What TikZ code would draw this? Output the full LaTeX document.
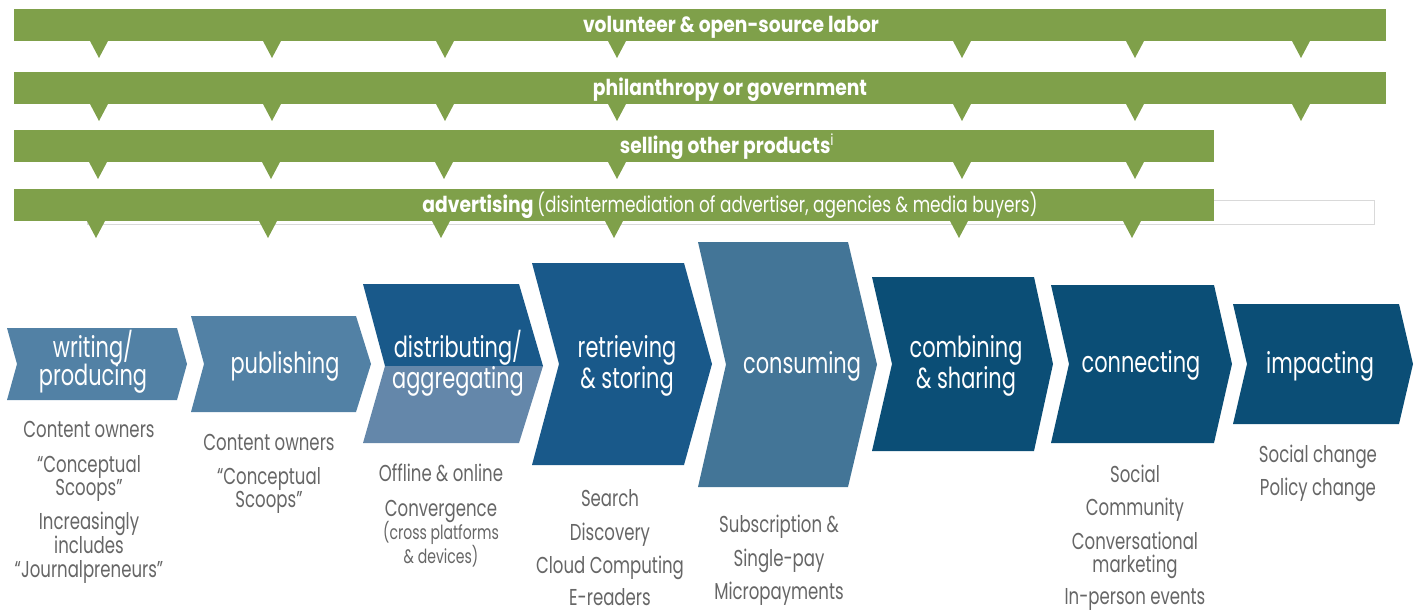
\documentclass[tikz,border=0pt]{standalone}
\usepackage{fontspec}
\setmainfont{Poppins}[FakeStretch=0.72]
\newfontfamily\labfont{Poppins}[FakeStretch=0.72]
\newfontfamily\barfont{Poppins}[FakeStretch=0.85]
\newfontfamily\parfont{Poppins}[FakeStretch=0.77]
\definecolor{grn}{HTML}{7FA04A}
\definecolor{lblue}{HTML}{5281A5}
\definecolor{dblue}{HTML}{19598A}
\definecolor{mblue}{HTML}{6487AA}
\definecolor{cblue}{HTML}{437597}
\definecolor{nblue}{HTML}{0B4E76}
\definecolor{txtgray}{HTML}{666666}
\newcommand\chevron[7]{% xl, yt, xtip, yb, notch, tipdepth, colour
  \fill[#7] (#1,#2) -- ({#3-#6},#2) -- (#3,{(#2+#4)/2}) -- ({#3-#6},#4) -- (#1,#4) -- ({#1+#5},{(#2+#4)/2}) -- cycle;}
\newcommand\tri[2]{\fill[grn] ({#1-9},#2) -- ({#1+9},#2) -- (#1,{#2+17}) -- cycle;}
\begin{document}
\begin{tikzpicture}[x=1pt,y=-1pt,
  lab/.style={text=white,font=\labfont\fontsize{29}{31}\selectfont,inner sep=0,anchor=base},
  desc/.style={text=txtgray,font=\fontsize{23}{25}\selectfont,inner sep=0,anchor=base},
  descs/.style={text=txtgray,font=\fontsize{19.5}{21}\selectfont,inner sep=0,anchor=base},
  bartxt/.style={text=white,font=\barfont\fontsize{22}{24}\selectfont,inner sep=0,anchor=base}]
\useasboundingbox (0,0) rectangle (1417,613);
% green bars
\fill[grn] (14,9) rectangle (1386,41);
\foreach \x in {99,272,445,617,962,1135,1301} {\tri{\x}{41}}
\fill[grn] (14,72) rectangle (1386,104);
\foreach \x in {99,272,445,617,962,1135,1301} {\tri{\x}{104}}
\fill[grn] (14,130) rectangle (1214,162);
\foreach \x in {98,271,444,617,962,1135} {\tri{\x}{162}}
\draw[black!15, line width=0.8pt] (87,200) rectangle (1374,224);
\fill[grn] (14,189) rectangle (1214,221);
\foreach \x in {96,268,441,614,959,1132} {\tri{\x}{221}}
\node[bartxt] (b1) at (731,32) {\bfseries volunteer \& open-source labor};
\node[bartxt] (b2) at (730,95) {\bfseries philanthropy or government};
\node[bartxt] (b3) at (727,153) {\bfseries selling other products\textsuperscript{\mdseries i}};
\node[bartxt] (b4) at (730,212) {\bfseries advertising {\parfont\mdseries (disintermediation of advertiser, agencies \& media buyers)}};
% chevrons
\chevron{7}{328}{187}{400}{10}{10}{lblue}
\chevron{191}{316}{371}{412}{13}{15}{lblue}
\fill[dblue] (363,284) -- (519,284) -- (543,366) -- (385,366) -- cycle;
\fill[mblue] (385,366) -- (543,366) -- (519,443) -- (363,443) -- cycle;
\chevron{532}{263}{712}{465}{27}{28}{dblue}
\chevron{698}{242}{877}{487}{28}{29}{cblue}
\chevron{872}{277}{1053}{451}{20}{19}{nblue}
\chevron{1051}{285}{1232}{443}{18}{18}{nblue}
\chevron{1233}{304}{1413}{424}{14}{14}{nblue}
% labels
\node[lab] (l1a) at (93,357) {writing/};
\node[lab] (l1b) at (93,385) {producing};
\node[lab] (l2) at (285,373) {publishing};
\node[lab] (l3a) at (458,357) {distributing/};
\node[lab] (l3b) at (458,388) {aggregating};
\node[lab] (l4a) at (627,357) {retrieving};
\node[lab] (l4b) at (627,388) {\& storing};
\node[lab] (l5) at (802,373) {consuming};
\node[lab] (l6a) at (966,357) {combining};
\node[lab] (l6b) at (966,388) {\& sharing};
\node[lab] (l7) at (1141,372) {connecting};
\node[lab] (l8) at (1320,373) {impacting};
% descriptions
\foreach \t/\y [count=\i] in {Content owners/437, “Conceptual/472, Scoops”/495, Increasingly/529, includes/553, “Journalpreneurs”/577}
  {\node[desc] (c1-\i) at (89,\y) {\t};}
\foreach \t/\y [count=\i] in {Content owners/450, “Conceptual/484, Scoops”/507}
  {\node[desc] (c2-\i) at (269,\y) {\t};}
\node[desc] (c3-1) at (441,481) {Offline \& online};
\node[desc] (c3-2) at (441,516) {Convergence};
\node[descs] (c3-3) at (441,539) {(cross platforms};
\node[descs] (c3-4) at (441,563) {\& devices)};
\foreach \t/\y [count=\i] in {Search/506, Discovery/540, Cloud Computing/573, E-readers/605}
  {\node[desc] (c4-\i) at (610,\y) {\t};}
\foreach \t/\y [count=\i] in {Subscription \&/532, Single-pay/566, Micropayments/599}
  {\node[desc] (c5-\i) at (779,\y) {\t};}
\foreach \t/\y [count=\i] in {Social/482, Community/515, Conversational/549, marketing/572, In-person events/604}
  {\node[desc] (c7-\i) at (1135,\y) {\t};}
\foreach \t/\y [count=\i] in {Social change/462, Policy change/495}
  {\node[desc] (c8-\i) at (1318,\y) {\t};}
\end{tikzpicture}
\end{document}
